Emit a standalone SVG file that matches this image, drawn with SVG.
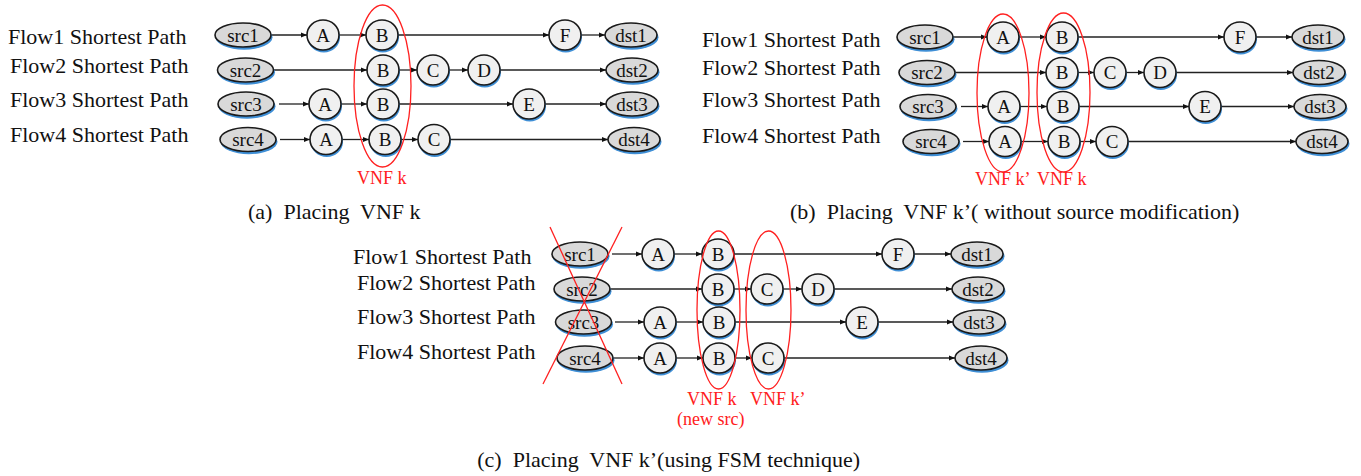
<svg xmlns="http://www.w3.org/2000/svg" width="1361" height="476" viewBox="0 0 1361 476">
<defs>
<style>
.lbl{font-family:"Liberation Serif","Times New Roman",serif;font-size:22px;fill:#111}
.cap{font-family:"Liberation Serif","Times New Roman",serif;font-size:22px;fill:#111}
.red{font-family:"Liberation Serif","Times New Roman",serif;font-size:18px;fill:#ff2020}
.nt{font-family:"Liberation Serif","Times New Roman",serif;font-size:19px;fill:#111;text-anchor:middle}
.sh{fill:#3f8fd6}
.term{fill:#d9d9d9;stroke:#1a1a1a;stroke-width:1.6}
.mid{fill:#f0f0f0;stroke:#1a1a1a;stroke-width:1.6}
.ring{fill:none;stroke:#ff2020;stroke-width:1.3}
.cn line{stroke:#222;stroke-width:1.3;marker-end:url(#ah)}
</style>
<marker id="ah" markerWidth="6" markerHeight="6" refX="6" refY="3" orient="auto" markerUnits="userSpaceOnUse"><path d="M0,0.6 L6,3 L0,5.4 z" fill="#111"/></marker>
<symbol id="T" overflow="visible"><ellipse class="sh" cx="1" cy="2.2" rx="28.5" ry="12.5"/><ellipse class="term" cx="0" cy="0" rx="28" ry="12"/></symbol>
<symbol id="D" overflow="visible"><ellipse class="sh" cx="1" cy="2.2" rx="26.5" ry="12.5"/><ellipse class="term" cx="0" cy="0" rx="26" ry="12"/></symbol>
<symbol id="C" overflow="visible"><ellipse class="sh" cx="0.8" cy="2.2" rx="16.2" ry="15.2"/><ellipse class="mid" cx="0" cy="0" rx="16" ry="15"/></symbol>
</defs>
<rect width="1361" height="476" fill="#fff"/>

<!-- Panel (a) labels -->
<g id="a-labels">
<text class="lbl" x="8" y="44">Flow1 Shortest Path</text>
<text class="lbl" x="10" y="73">Flow2 Shortest Path</text>
<text class="lbl" x="10" y="107">Flow3 Shortest Path</text>
<text class="lbl" x="10" y="142">Flow4 Shortest Path</text>
</g>
<g id="a-connectors" class="cn">
<line x1="271.5" y1="35" x2="307" y2="35"/><line x1="339" y1="35" x2="366" y2="35"/><line x1="398" y1="35" x2="549" y2="35"/><line x1="581" y1="35" x2="605" y2="35"/>
<line x1="274" y1="70" x2="367" y2="70"/><line x1="399" y1="70" x2="417" y2="70"/><line x1="449" y1="70" x2="468" y2="70"/><line x1="500" y1="70" x2="606" y2="70"/>
<line x1="279" y1="104" x2="309" y2="104"/><line x1="341" y1="104" x2="367" y2="104"/><line x1="399" y1="104" x2="513" y2="104"/><line x1="545" y1="104" x2="606" y2="104"/>
<line x1="280" y1="139.5" x2="310" y2="139.5"/><line x1="342" y1="139.5" x2="369" y2="139.5"/><line x1="401" y1="139.5" x2="418" y2="139.5"/><line x1="450" y1="139.5" x2="608" y2="139.5"/>
</g>
<g id="a-src1"><use href="#T" x="243" y="35"/><text class="nt" x="243" y="41.5">src1</text></g>
<g id="a-A1"><use href="#C" x="323" y="35"/><text class="nt" x="323" y="41.5">A</text></g>
<g id="a-B1"><use href="#C" x="382" y="35"/><text class="nt" x="382" y="41.5">B</text></g>
<g id="a-F1"><use href="#C" x="565" y="35"/><text class="nt" x="565" y="41.5">F</text></g>
<g id="a-dst1"><use href="#D" x="631" y="35"/><text class="nt" x="631" y="41.5">dst1</text></g>
<g id="a-src2"><use href="#T" x="245.5" y="70"/><text class="nt" x="245.5" y="76.5">src2</text></g>
<g id="a-B2"><use href="#C" x="383" y="70"/><text class="nt" x="383" y="76.5">B</text></g>
<g id="a-C2"><use href="#C" x="433" y="70"/><text class="nt" x="433" y="76.5">C</text></g>
<g id="a-D2"><use href="#C" x="484" y="70"/><text class="nt" x="484" y="76.5">D</text></g>
<g id="a-dst2"><use href="#D" x="632" y="70"/><text class="nt" x="632" y="76.5">dst2</text></g>
<g id="a-src3"><use href="#T" x="246" y="104"/><text class="nt" x="246" y="110.5">src3</text></g>
<g id="a-A3"><use href="#C" x="325" y="104"/><text class="nt" x="325" y="110.5">A</text></g>
<g id="a-B3"><use href="#C" x="383" y="104"/><text class="nt" x="383" y="110.5">B</text></g>
<g id="a-E3"><use href="#C" x="529" y="104"/><text class="nt" x="529" y="110.5">E</text></g>
<g id="a-dst3"><use href="#D" x="632" y="104"/><text class="nt" x="632" y="110.5">dst3</text></g>
<g id="a-src4"><use href="#T" x="248" y="139.5"/><text class="nt" x="248" y="146">src4</text></g>
<g id="a-A4"><use href="#C" x="326" y="139.5"/><text class="nt" x="326" y="146">A</text></g>
<g id="a-B4"><use href="#C" x="385" y="139.5"/><text class="nt" x="385" y="146">B</text></g>
<g id="a-C4"><use href="#C" x="434" y="139.5"/><text class="nt" x="434" y="146">C</text></g>
<g id="a-dst4"><use href="#D" x="634" y="139.5"/><text class="nt" x="634" y="146">dst4</text></g>
<g id="a-vnfk"><ellipse class="ring" cx="382.5" cy="86" rx="28.5" ry="81"/><text class="red" x="357" y="184">VNF k</text></g>
<text class="cap" x="248" y="219" xml:space="preserve">(a)  Placing  VNF k</text>

<!-- Panel (b) -->
<g id="b-labels">
<text class="lbl" x="702" y="47">Flow1 Shortest Path</text>
<text class="lbl" x="702" y="75">Flow2 Shortest Path</text>
<text class="lbl" x="702" y="107">Flow3 Shortest Path</text>
<text class="lbl" x="702" y="143">Flow4 Shortest Path</text>
</g>
<g id="b-connectors" class="cn">
<line x1="953" y1="37" x2="987" y2="37"/><line x1="1019" y1="37" x2="1046" y2="37"/><line x1="1078" y1="37" x2="1224" y2="37"/><line x1="1256" y1="37" x2="1292" y2="37"/>
<line x1="955" y1="72.5" x2="1046" y2="72.5"/><line x1="1078" y1="72.5" x2="1094" y2="72.5"/><line x1="1126" y1="72.5" x2="1144" y2="72.5"/><line x1="1176" y1="72.5" x2="1293" y2="72.5"/>
<line x1="961" y1="106.5" x2="988" y2="106.5"/><line x1="1020" y1="106.5" x2="1047" y2="106.5"/><line x1="1079" y1="106.5" x2="1189" y2="106.5"/><line x1="1221" y1="106.5" x2="1294" y2="106.5"/>
<line x1="963" y1="141.5" x2="989" y2="141.5"/><line x1="1021" y1="141.5" x2="1048" y2="141.5"/><line x1="1080" y1="141.5" x2="1096" y2="141.5"/><line x1="1128" y1="141.5" x2="1296" y2="141.5"/>
</g>
<g id="b-src1"><use href="#T" x="925" y="37"/><text class="nt" x="925" y="43.5">src1</text></g>
<g id="b-A1"><use href="#C" x="1003" y="37"/><text class="nt" x="1003" y="43.5">A</text></g>
<g id="b-B1"><use href="#C" x="1062" y="37"/><text class="nt" x="1062" y="43.5">B</text></g>
<g id="b-F1"><use href="#C" x="1240" y="37"/><text class="nt" x="1240" y="43.5">F</text></g>
<g id="b-dst1"><use href="#D" x="1318" y="37"/><text class="nt" x="1318" y="43.5">dst1</text></g>
<g id="b-src2"><use href="#T" x="927" y="72.5"/><text class="nt" x="927" y="79">src2</text></g>
<g id="b-B2"><use href="#C" x="1062" y="72.5"/><text class="nt" x="1062" y="79">B</text></g>
<g id="b-C2"><use href="#C" x="1110" y="72.5"/><text class="nt" x="1110" y="79">C</text></g>
<g id="b-D2"><use href="#C" x="1160" y="72.5"/><text class="nt" x="1160" y="79">D</text></g>
<g id="b-dst2"><use href="#D" x="1319" y="72.5"/><text class="nt" x="1319" y="79">dst2</text></g>
<g id="b-src3"><use href="#T" x="928" y="106.5"/><text class="nt" x="928" y="113">src3</text></g>
<g id="b-A3"><use href="#C" x="1004" y="106.5"/><text class="nt" x="1004" y="113">A</text></g>
<g id="b-B3"><use href="#C" x="1063" y="106.5"/><text class="nt" x="1063" y="113">B</text></g>
<g id="b-E3"><use href="#C" x="1205" y="106.5"/><text class="nt" x="1205" y="113">E</text></g>
<g id="b-dst3"><use href="#D" x="1320" y="106.5"/><text class="nt" x="1320" y="113">dst3</text></g>
<g id="b-src4"><use href="#T" x="931" y="141.5"/><text class="nt" x="931" y="148">src4</text></g>
<g id="b-A4"><use href="#C" x="1005" y="141.5"/><text class="nt" x="1005" y="148">A</text></g>
<g id="b-B4"><use href="#C" x="1064" y="141.5"/><text class="nt" x="1064" y="148">B</text></g>
<g id="b-C4"><use href="#C" x="1112" y="141.5"/><text class="nt" x="1112" y="148">C</text></g>
<g id="b-dst4"><use href="#D" x="1322" y="141.5"/><text class="nt" x="1322" y="148">dst4</text></g>
<g id="b-vnfk2"><ellipse class="ring" cx="1003" cy="93" rx="26" ry="79"/><text class="red" x="975" y="185">VNF k’</text></g>
<g id="b-vnfk"><ellipse class="ring" cx="1063.5" cy="92.5" rx="26.5" ry="79.5"/><text class="red" x="1037" y="185">VNF k</text></g>
<text class="cap" x="790" y="219" xml:space="preserve">(b)  Placing  VNF k’( without source modification)</text>

<!-- Panel (c) -->
<g id="c-labels">
<text class="lbl" x="353" y="264">Flow1 Shortest Path</text>
<text class="lbl" x="357" y="290">Flow2 Shortest Path</text>
<text class="lbl" x="357" y="324">Flow3 Shortest Path</text>
<text class="lbl" x="357" y="359">Flow4 Shortest Path</text>
</g>
<g id="c-connectors" class="cn">
<line x1="612" y1="254" x2="642" y2="254"/><line x1="674" y1="254" x2="702" y2="254"/><line x1="734" y1="254" x2="882" y2="254"/><line x1="914" y1="254" x2="951" y2="254"/>
<line x1="611" y1="289" x2="702" y2="289"/><line x1="734" y1="289" x2="751" y2="289"/><line x1="783" y1="289" x2="802" y2="289"/><line x1="834" y1="289" x2="952" y2="289"/>
<line x1="615" y1="322" x2="644" y2="322"/><line x1="676" y1="322" x2="703" y2="322"/><line x1="735" y1="322" x2="846" y2="322"/><line x1="878" y1="322" x2="953" y2="322"/>
<line x1="614" y1="358" x2="644" y2="358"/><line x1="676" y1="358" x2="703" y2="358"/><line x1="735" y1="358" x2="752" y2="358"/><line x1="784" y1="358" x2="955" y2="358"/>
</g>
<g id="c-src1"><use href="#T" x="580" y="254"/><text class="nt" x="580" y="260.5">src1</text></g>
<g id="c-A1"><use href="#C" x="658" y="254"/><text class="nt" x="658" y="260.5">A</text></g>
<g id="c-B1"><use href="#C" x="718" y="254"/><text class="nt" x="718" y="260.5">B</text></g>
<g id="c-F1"><use href="#C" x="898" y="254"/><text class="nt" x="898" y="260.5">F</text></g>
<g id="c-dst1"><use href="#D" x="977" y="254"/><text class="nt" x="977" y="260.5">dst1</text></g>
<g id="c-src2"><use href="#T" x="582" y="289"/><text class="nt" x="582" y="295.5">src2</text></g>
<g id="c-B2"><use href="#C" x="718" y="289"/><text class="nt" x="718" y="295.5">B</text></g>
<g id="c-C2"><use href="#C" x="767" y="289"/><text class="nt" x="767" y="295.5">C</text></g>
<g id="c-D2"><use href="#C" x="818" y="289"/><text class="nt" x="818" y="295.5">D</text></g>
<g id="c-dst2"><use href="#D" x="978" y="289"/><text class="nt" x="978" y="295.5">dst2</text></g>
<g id="c-src3"><use href="#T" x="583.5" y="322"/><text class="nt" x="583.5" y="328.5">src3</text></g>
<g id="c-A3"><use href="#C" x="660" y="322"/><text class="nt" x="660" y="328.5">A</text></g>
<g id="c-B3"><use href="#C" x="719" y="322"/><text class="nt" x="719" y="328.5">B</text></g>
<g id="c-E3"><use href="#C" x="862" y="322"/><text class="nt" x="862" y="328.5">E</text></g>
<g id="c-dst3"><use href="#D" x="979" y="322"/><text class="nt" x="979" y="328.5">dst3</text></g>
<g id="c-src4"><use href="#T" x="585" y="358"/><text class="nt" x="585" y="364.5">src4</text></g>
<g id="c-A4"><use href="#C" x="660" y="358"/><text class="nt" x="660" y="364.5">A</text></g>
<g id="c-B4"><use href="#C" x="719" y="358"/><text class="nt" x="719" y="364.5">B</text></g>
<g id="c-C4"><use href="#C" x="768" y="358"/><text class="nt" x="768" y="364.5">C</text></g>
<g id="c-dst4"><use href="#D" x="981" y="358"/><text class="nt" x="981" y="364.5">dst4</text></g>
<g id="c-cross"><line x1="550" y1="227" x2="622" y2="384" stroke="#ff2020" stroke-width="1.3"/><line x1="622" y1="227" x2="543" y2="384" stroke="#ff2020" stroke-width="1.3"/></g>
<g id="c-vnfk"><ellipse class="ring" cx="718.5" cy="310" rx="21.5" ry="79"/><text class="red" x="687" y="405">VNF k</text><text class="red" x="677" y="425">(new src)</text></g>
<g id="c-vnfk2"><ellipse class="ring" cx="768.5" cy="310" rx="22.5" ry="79"/><text class="red" x="750" y="405">VNF k’</text></g>
<text class="cap" x="860" y="467" text-anchor="end" xml:space="preserve">(c)  Placing  VNF k’(using FSM technique)</text>
</svg>
